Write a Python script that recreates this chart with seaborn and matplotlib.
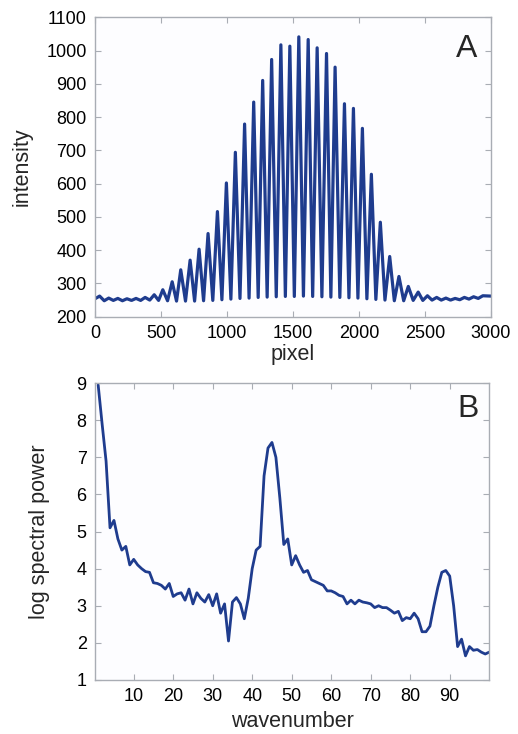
import matplotlib
matplotlib.use("Agg")
import matplotlib.pyplot as plt
import pandas as pd
import seaborn as sns

# panel A: fringe maxima and minima
peak_px = [35, 104, 173, 242, 311, 380, 449, 514, 585, 650, 721, 789, 857, 928,
           996, 1064, 1134, 1203, 1271, 1339, 1409, 1477, 1545, 1616, 1684, 1755,
           1820, 1891, 1959, 2027, 2095, 2163, 2234, 2304, 2375, 2450, 2520, 2590,
           2660, 2730, 2800, 2870, 2940]
peak_val = [262, 256, 255, 254, 255, 258, 266, 281, 305, 341, 370, 403, 450, 516,
            602, 694, 779, 845, 910, 973, 1017, 1013, 1041, 1033, 1008, 991,
            950, 840, 826, 766, 628, 484, 381, 321, 291, 274, 263, 258,
            256, 255, 258, 260, 263]
trough_px = [0, 70, 139, 208, 277, 346, 415, 482, 550, 618, 686, 755, 823, 893,
             962, 1030, 1099, 1168, 1237, 1305, 1374, 1443, 1511, 1580, 1650, 1720,
             1788, 1856, 1925, 1993, 2061, 2129, 2198, 2269, 2340, 2412, 2485, 2555,
             2625, 2695, 2765, 2835, 2905, 3000]
trough_val = [254, 248, 249, 248, 249, 249, 250, 249, 248, 247, 247, 247, 248, 249,
              251, 253, 255, 256, 258, 259, 260, 261, 261, 262, 261, 260,
              259, 258, 257, 256, 254, 252, 250, 248, 248, 249, 249, 250,
              250, 250, 251, 253, 255, 262]

# panel B: log spectral power per wavenumber
wavenumber = list(range(1, 101))
log_power = [8.95, 7.9, 6.9, 5.1, 5.3, 4.8, 4.5, 4.6, 4.1, 4.25,
             4.1, 4.0, 3.92, 3.9, 3.62, 3.6, 3.55, 3.45, 3.6, 3.25,
             3.32, 3.35, 3.15, 3.45, 3.05, 3.35, 3.2, 3.1, 3.3, 3.0,
             3.32, 2.8, 3.05, 2.05, 3.1, 3.22, 3.05, 2.65, 3.2, 4.0,
             4.5, 4.6, 6.5, 7.25, 7.4, 7.0, 5.9, 4.65, 4.8, 4.1,
             4.35, 4.1, 3.9, 3.95, 3.7, 3.65, 3.6, 3.55, 3.4, 3.4,
             3.35, 3.28, 3.25, 3.05, 3.15, 3.05, 3.15, 3.1, 3.08, 3.05,
             2.95, 3.0, 2.95, 2.95, 2.88, 2.8, 2.85, 2.6, 2.68, 2.65,
             2.8, 2.65, 2.3, 2.3, 2.45, 3.0, 3.5, 3.9, 3.95, 3.8,
             3.0, 1.9, 2.1, 1.65, 1.9, 1.8, 1.82, 1.75, 1.7, 1.75]

LINE = "#1f3c8e"
FRAME = "#a9adb4"


def style_axes(ax):
    ax.set_facecolor("#fdfdff")
    for side in ax.spines.values():
        side.set_color(FRAME)
        side.set_linewidth(1.0)
    ax.tick_params(direction="in", top=True, right=True, length=4, width=0.8,
                   color=FRAME, labelsize=13, labelcolor="black", pad=6)


def main():
    sns.set_theme(style="ticks")
    plt.rcParams["font.family"] = ["Liberation Sans", "DejaVu Sans"]

    fringe = pd.DataFrame({
        "pixel": peak_px + trough_px,
        "intensity": peak_val + trough_val,
    }).sort_values("pixel")
    spectrum = pd.DataFrame({"wavenumber": wavenumber, "log_power": log_power})

    fig = plt.figure(figsize=(5.18, 7.34), dpi=100, facecolor="white")
    ax_a = fig.add_axes([0.1834, 0.5685, 0.764, 0.408])
    ax_b = fig.add_axes([0.1834, 0.0736, 0.761, 0.4045])

    sns.lineplot(data=fringe, x="pixel", y="intensity", ax=ax_a, color=LINE,
                 linewidth=2.3, estimator=None, sort=False,
                 solid_joinstyle="round")
    style_axes(ax_a)
    ax_a.set_xlim(0, 3000)
    ax_a.set_ylim(200, 1100)
    ax_a.set_xticks(range(0, 3001, 500))
    ax_a.set_yticks(range(200, 1101, 100))
    ax_a.set_xlabel("pixel", fontsize=15.5)
    ax_a.set_ylabel("intensity", fontsize=15.5)
    ax_a.yaxis.set_label_coords(-0.158, 0.5)
    ax_a.xaxis.set_label_coords(0.5, -0.09)
    ax_a.text(0.94, 0.895, "A", transform=ax_a.transAxes, fontsize=23,
              ha="center", va="center")

    sns.lineplot(data=spectrum, x="wavenumber", y="log_power", ax=ax_b,
                 color=LINE, linewidth=2.0, estimator=None,
                 solid_joinstyle="round")
    style_axes(ax_b)
    ax_b.set_xlim(0.2, 100)
    ax_b.set_ylim(1, 9)
    ax_b.set_xticks(range(10, 91, 10))
    ax_b.set_yticks(range(1, 10))
    ax_b.set_xlabel("wavenumber", fontsize=15.5)
    ax_b.set_ylabel("log spectral power", fontsize=15.5)
    ax_b.yaxis.set_label_coords(-0.113, 0.5)
    ax_b.xaxis.set_label_coords(0.5, -0.105)
    ax_b.text(0.947, 0.912, "B", transform=ax_b.transAxes, fontsize=23,
              ha="center", va="center")

    fig.savefig("out.png", dpi=100, facecolor="white")
    plt.close(fig)


if __name__ == "__main__":
    main()
